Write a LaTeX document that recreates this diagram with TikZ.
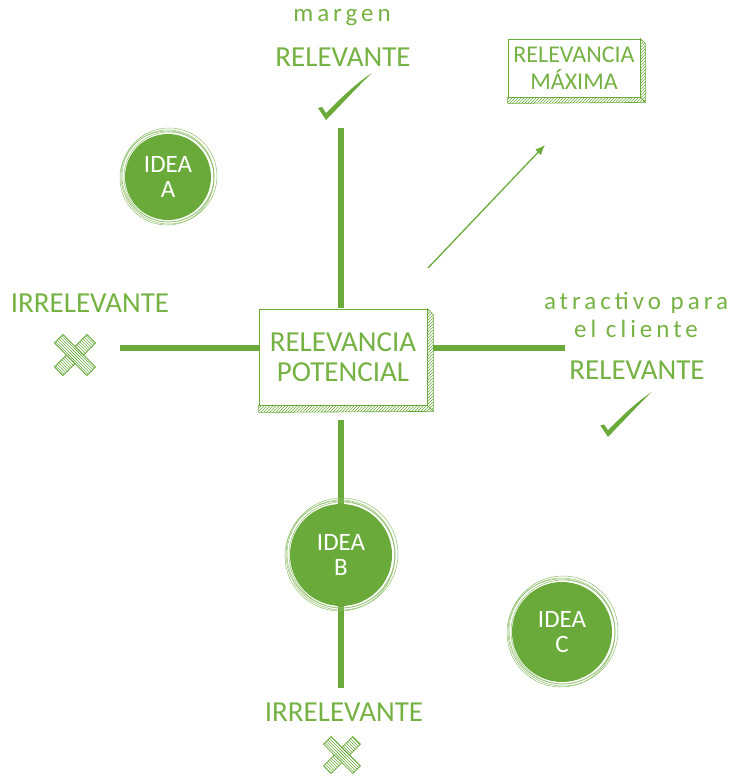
\documentclass[tikz,border=0pt]{standalone}
\usepackage{fontspec}
\setmainfont{Carlito}
\newfontfamily\notefont[LetterSpace=16]{Carlito}
\usepackage{tikz}
\usetikzlibrary{arrows.meta,positioning,patterns,calc}

\definecolor{leaf}{HTML}{6AAA3A}
\definecolor{leaftext}{HTML}{76B243}

\begin{document}
\begin{tikzpicture}[x=1pt, y=-1pt,
    axis/.style={draw=leaf, line width=6pt},
    lbl/.style={text=leaftext, font=\fontsize{29}{30}\selectfont, inner sep=0pt},
    note/.style={text=leaftext, font=\notefont\fontsize{25}{28}\selectfont, inner sep=0pt, align=center},
    sketchbox/.style={rectangle, draw=leaf, line width=0.8pt, fill=white, align=center, text=leaftext, inner sep=0pt},
    idea/.style={circle, fill=leaf, inner sep=0pt, text=white, align=center, font=\fontsize{25}{25}\selectfont},
    strip/.style={draw=leaf, line width=0.6pt, pattern=north east lines, pattern color=leaf},
    tick/.pic={
      \fill[leaf] (-7,-9) -- (-3,-10) -- (1,-4) .. controls (14,-17) and (30,-33) .. (47,-44)
        .. controls (32,-30) and (16,-12) .. (1,3) -- cycle;
    },
    cross/.pic={
      \foreach \a in {45,-45}
        \draw[leaf, line width=0.8pt, fill=white, rotate=\a] (-23,-6) rectangle (23,6);
      \foreach \a in {45,-45}
        \fill[pattern=north west lines, pattern color=leaf, rotate=\a] (-23,-6) rectangle (23,6);
    }
  ]
    \useasboundingbox (0,0) rectangle (737,781);

    % Axes
    \coordinate (ntop) at (341,128);
    \coordinate (nbot) at (341,688);
    \coordinate (wleft) at (120,348);
    \coordinate (eright) at (565,348);
    \draw[axis] (ntop) -- (341,308);
    \draw[axis] (341,420) -- (nbot);
    \draw[axis] (wleft) -- (260,348);
    \draw[axis] (433,348) -- (eright);

    % Central box
    \node[sketchbox, minimum width=168pt, minimum height=96pt, font=\fontsize{29}{30}\selectfont] (potencial) at (343,357) {RELEVANCIA\\POTENCIAL};
    \draw[strip] (potencial.south west) -- (potencial.south east) -- ++(6,6) -- ($(potencial.south west)+(0,7)$) -- cycle;
    \draw[strip] (potencial.north east) -- ++(6,6) -- ($(potencial.south east)+(6,6)$) -- (potencial.south east) -- cycle;

    % Top: relevant margin
    \node[note] (margen) at (342,18) {margen};
    \node[lbl] (relnorth) at (343,57) {RELEVANTE};
    \pic at (325,117) {tick};

    % Left: irrelevant
    \node[lbl] (irrwest) at (90,303) {IRRELEVANTE};
    \pic at (75,355) {cross};

    % Right: attractive for the client
    \node[note] (atractivo) at (636,315) {atractivo para\\el cliente};
    \node[lbl] (releast) at (637,370) {RELEVANTE};
    \pic[scale=0.95] at (607,434) {tick};

    % Bottom: irrelevant
    \node[lbl] (irrsouth) at (344,712) {IRRELEVANTE};
    \pic[scale=0.9] at (342,755) {cross};

    % Maximum relevance
    \node[sketchbox, minimum width=132pt, minimum height=58pt, font=\fontsize{24}{27}\selectfont] (maxima) at (574,68) {RELEVANCIA\\MÁXIMA};
    \draw[strip] (maxima.south west) -- (maxima.south east) -- ++(5,5) -- ($(maxima.south west)+(0,6)$) -- cycle;
    \draw[strip] (maxima.north east) -- ++(5,5) -- ($(maxima.south east)+(5,5)$) -- (maxima.south east) -- cycle;
    \coordinate (arrowtail) at (428,268);
    \coordinate (arrowhead) at (545,145);
    \draw[leaf, line width=1.3pt, -{Latex[length=10pt,width=8pt]}] (arrowtail) -- (arrowhead);

    % Ideas
    \node[idea, minimum size=86pt] (ideaA) at (168,177) {IDEA\\A};
    \node[idea, minimum size=102pt] (ideaB) at (341,555) {IDEA\\B};
    \node[idea, minimum size=100pt] (ideaC) at (562,632) {IDEA\\C};
    \foreach \n/\r in {ideaA/43,ideaB/51,ideaC/50}
      \foreach \dr/\dx/\dy in {2/1/0,4/-1/1,3/0/-1,5/1/-1}
        \draw[leaf!75, line width=0.5pt] ($(\n)+(\dx,\dy)$) circle[radius={(\r+\dr)*1pt}];
\end{tikzpicture}
\end{document}
